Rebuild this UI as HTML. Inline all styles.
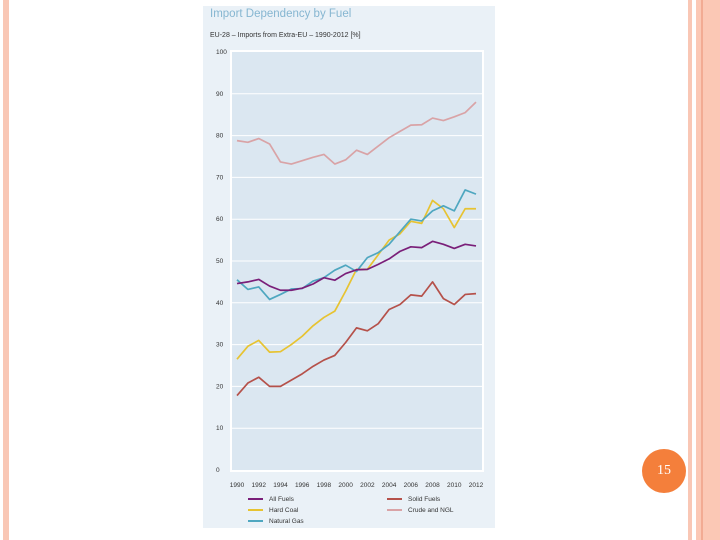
<!DOCTYPE html>
<html><head><meta charset="utf-8"><style>
body{margin:0;width:720px;height:540px;background:#fff;position:relative;overflow:hidden;font-family:"Liberation Sans",sans-serif}
.abs{position:absolute}
</style></head><body>
<div class="abs" style="left:3px;top:0;width:6px;height:540px;background:#f9c7b5"></div>
<div class="abs" style="left:688px;top:0;width:4px;height:540px;background:#f9c7b5"></div>
<div class="abs" style="left:696px;top:0;width:24px;height:540px;background:#fbc8b5"></div>
<div class="abs" style="left:701px;top:0;width:2px;height:540px;background:#f2ab93"></div>
<div class="abs" style="left:642px;top:449px;width:44px;height:44px;border-radius:50%;background:#f47f3b;color:#fff;font-family:'Liberation Serif',serif;font-size:14px;line-height:44px;text-align:center">15</div>
<svg class="abs" style="left:0;top:0" width="720" height="540">
<rect x="203" y="6" width="292" height="522" fill="#eaf1f7"/>
<text x="210" y="17" font-size="11.5" fill="#86b6d1">Import Dependency by Fuel</text>
<text x="210" y="37" font-size="7" fill="#333">EU-28 – Imports from Extra-EU – 1990-2012 [%]</text>
<rect x="230" y="50" width="254" height="422" fill="#fff"/>
<rect x="232" y="52" width="250" height="418" fill="#dbe7f1"/>
<g id="grid"></g><g id="lines"></g><g id="legend"></g>
</svg>
<script>
const years=[1990,1991,1992,1993,1994,1995,1996,1997,1998,1999,2000,2001,2002,2003,2004,2005,2006,2007,2008,2009,2010,2011,2012];
const yTicks=[0,10,20,30,40,50,60,70,80,90,100];
const xTickLabels=[1990,1992,1994,1996,1998,2000,2002,2004,2006,2008,2010,2012];
const crude=[78.8,78.4,79.3,78.0,73.7,73.2,74,74.8,75.5,73.2,74.2,76.5,75.5,77.5,79.5,81,82.5,82.6,84.2,83.6,84.5,85.5,88];
const allFuels=[44.6,45,45.6,44,43,43,43.5,44.5,46,45.4,47,47.9,48,49.2,50.5,52.3,53.4,53.2,54.7,54,53,54,53.6];
const natGas=[45.5,43.2,43.8,40.8,42,43.3,43.4,45.2,46,47.8,49,47.5,50.8,52,54,57,60,59.6,62,63.2,62,67,66];
const hardCoal=[26.5,29.6,31,28.2,28.3,30,32,34.5,36.5,38,42.8,48,48,51.5,55,56.5,59.5,59,64.5,62.5,58,62.5,62.5];
const solid=[17.8,20.8,22.2,20,20,21.5,23,24.8,26.3,27.4,30.5,34,33.3,35,38.4,39.6,41.9,41.6,45,41,39.6,42,42.2];
const NS='http://www.w3.org/2000/svg';
const xS=y=>237+(y-1990)*(476-237)/22;
const yS=v=>470-v*4.18;
function mk(t,a,p){const e=document.createElementNS(NS,t);for(const k in a)e.setAttribute(k,a[k]);p.appendChild(e);return e;}
const grid=document.getElementById('grid');
yTicks.forEach(v=>{
 if(v>0&&v<100){const l=mk('line',{x1:232,x2:482,y1:yS(v),y2:yS(v),stroke:'#fff','stroke-width':1},grid);
 
 }
 const t=mk('text',{x:216,y:yS(v)+2,'font-size':6.5,fill:'#333'},grid);t.textContent=v;
 
 
});
xTickLabels.forEach(y=>{
 const t=mk('text',{x:xS(y),y:487,'font-size':6.5,fill:'#333','text-anchor':'middle'},grid);t.textContent=y;
 
 
});
const series=[['crude-and-ngl',crude,'#d9a3a6'],['solid-fuels',solid,'#b5514a'],['hard-coal',hardCoal,'#e7c331'],['natural-gas',natGas,'#4fa7c0'],['all-fuels',allFuels,'#7a1f79']];
const lg=document.getElementById('lines');
series.forEach(([n,d,c])=>{
 const p=mk('polyline',{points:d.map((v,i)=>xS(years[i])+','+yS(v)).join(' '),fill:'none',stroke:c,'stroke-width':1.7,'stroke-linejoin':'round'},lg);
 
 
});
const legendItems=[['All Fuels','#7a1f79',248,499],['Hard Coal','#e7c331',248,510],['Natural Gas','#4fa7c0',248,521],['Solid Fuels','#b5514a',387,499],['Crude and NGL','#d9a3a6',387,510]];
const leg=document.getElementById('legend');
legendItems.forEach(([n,c,x,y])=>{
 const g=mk('g',{},leg);
 
 
 mk('line',{x1:x,x2:x+15,y1:y,y2:y,stroke:c,'stroke-width':2},g);
 const t=mk('text',{x:x+21,y:y+2,'font-size':6.5,fill:'#333'},g);t.textContent=n;
});
</script>
</body></html>
